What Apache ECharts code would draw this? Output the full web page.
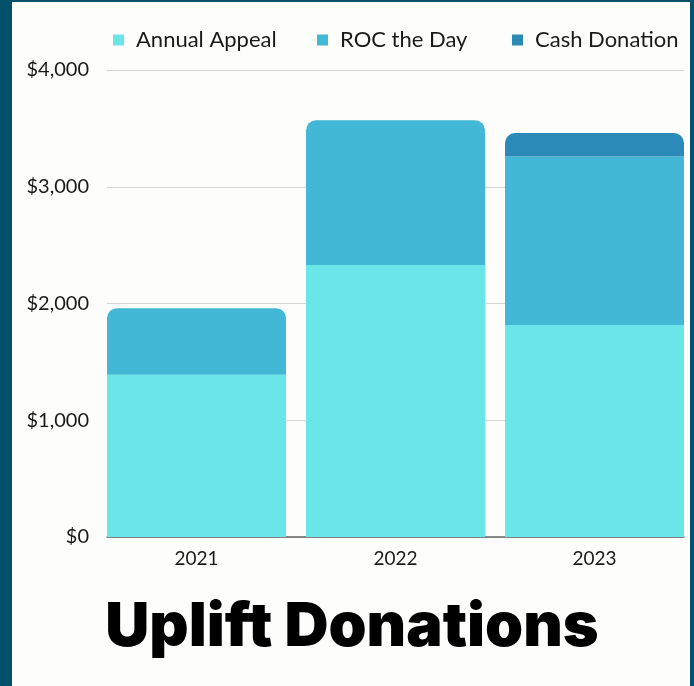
<!DOCTYPE html>
<html>
<head>
<meta charset="utf-8">
<script src="https://cdn.jsdelivr.net/npm/echarts@6/dist/echarts.min.js"></script>
<style>
html,body{margin:0;padding:0;background:#fdfdfb;}
#c{width:694px;height:686px;}
</style>
</head>
<body>
<div id="c"></div>
<script>
const categories = ['2021', '2022', '2023'];
const annualAppeal = [1390, 2330, 1815];
const rocTheDay = [570, 1240, 1445];
const cashDonation = [0, 0, 200];
const seriesNames = ['Annual Appeal', 'ROC the Day', 'Cash Donation'];
const yTicks = [0, 1000, 2000, 3000, 4000];
const titleText = 'Uplift Donations';

const colors = ['#6ae5e8', '#42b7d6', '#2b8ab8'];
const R = 10;

function withRadius(values, topFlags) {
  return values.map((v, i) => ({
    value: v === 0 ? null : v,
    itemStyle: { borderRadius: topFlags[i] ? [R, R, 0, 0] : 0 }
  }));
}

const chart = echarts.init(document.getElementById('c'));
const fontFam = 'Lato, "Noto Sans", sans-serif';
const legendBase = {
  itemWidth: 11, itemHeight: 11, icon: 'rect', top: 24, itemGap: 0,
  textStyle: { fontSize: 22, color: '#1a1a1a', fontFamily: fontFam, padding: [0, 0, 0, 7] }
};
chart.setOption({
  backgroundColor: '#fdfdfb',
  animation: false,
  color: colors,
  legend: [
    Object.assign({}, legendBase, { data: [seriesNames[0]], left: 108 }),
    Object.assign({}, legendBase, { data: [seriesNames[1]], left: 312 }),
    Object.assign({}, legendBase, { data: [seriesNames[2]], left: 507 })
  ],
  grid: [
    { left: 97, right: 0, top: 70, bottom: 149 },
    { left: 107, right: 10, top: 70, bottom: 149 }
  ],
  xAxis: [
    { type: 'category', gridIndex: 0, data: categories,
      axisLine: { show: false }, axisTick: { show: false },
      axisLabel: { fontSize: 19, color: '#1a1a1a', fontFamily: fontFam, margin: 12 } },
    { type: 'category', gridIndex: 1, data: categories,
      axisLine: { show: true, lineStyle: { color: '#666', width: 1.5 } },
      axisTick: { show: false }, axisLabel: { show: false } }
  ],
  yAxis: [
    { type: 'value', gridIndex: 0, min: yTicks[0], max: yTicks[yTicks.length - 1], interval: 1000,
      axisLine: { show: false }, axisTick: { show: false }, splitLine: { show: false },
      axisLabel: { fontSize: 20, color: '#1a1a1a', fontFamily: fontFam, margin: 8,
        formatter: v => '$' + v.toLocaleString('en-US') } },
    { type: 'value', gridIndex: 1, min: yTicks[0], max: yTicks[yTicks.length - 1], interval: 1000,
      axisLine: { show: false }, axisTick: { show: false }, axisLabel: { show: false },
      splitLine: { show: true, lineStyle: { color: '#d4d4d4', width: 1 } } }
  ],
  series: [
    { name: seriesNames[0], type: 'bar', stack: 's', xAxisIndex: 0, yAxisIndex: 0, barWidth: 179,
      data: annualAppeal },
    { name: seriesNames[1], type: 'bar', stack: 's', xAxisIndex: 0, yAxisIndex: 0, barWidth: 179,
      data: withRadius(rocTheDay, cashDonation.map(v => v === 0)) },
    { name: seriesNames[2], type: 'bar', stack: 's', xAxisIndex: 0, yAxisIndex: 0, barWidth: 179,
      data: withRadius(cashDonation, cashDonation.map(v => v !== 0)) }
  ],
  graphic: [
    { type: 'text', z: 10,
      style: { text: titleText, x: 352, y: 597, align: 'center', verticalAlign: 'top',
        fontSize: 61, fontWeight: 900, fontFamily: 'Inter, Lato, sans-serif', fill: '#000' } },
    { type: 'rect', left: 0, top: 0, z: 20, shape: { width: 12, height: 686 }, style: { fill: '#03506a' } },
    { type: 'rect', left: 0, top: 0, z: 20, shape: { width: 694, height: 2 }, style: { fill: '#03506a' } },
    { type: 'rect', left: 690, top: 0, z: 20, shape: { width: 4, height: 686 }, style: { fill: '#03506a' } }
  ]
});
</script>
</body>
</html>
